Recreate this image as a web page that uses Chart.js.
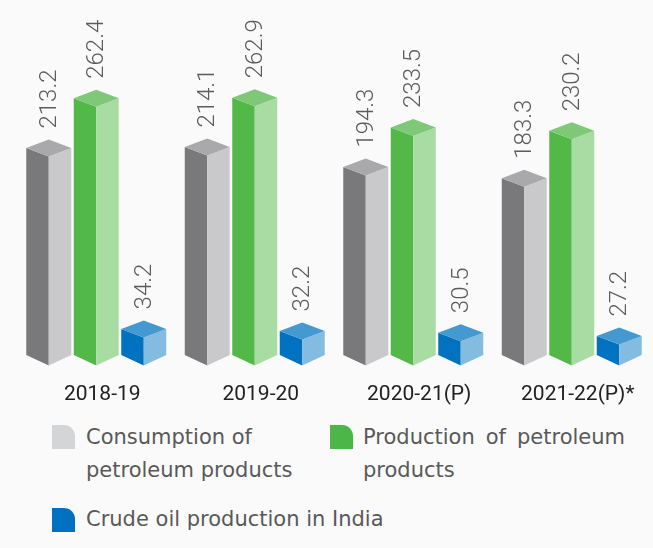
<!DOCTYPE html>
<html lang="en">
<head>
    <meta charset="UTF-8">
    <title>Petroleum products</title>
    <script src="https://cdn.jsdelivr.net/npm/chart.js"></script>
    <style>
        html, body { margin: 0; padding: 0; background: #fafafa; }
        #wrap { position: relative; width: 653px; height: 548px; overflow: hidden; }
        #chart { position: absolute; left: 0; top: 0; }
        .item { position: absolute; font-family: "DejaVu Sans", sans-serif; font-size: 21px; line-height: 33px; color: #595959; }
        .swatch { position: absolute; width: 23px; height: 24px; border-top-right-radius: 11px; }
    </style>
</head>
<body>
    <div id="wrap">
        <canvas id="chart" width="653" height="420"></canvas>

        <div class="swatch" style="left:52px; top:425px; background:#d4d5d7;"></div>
        <div class="item" id="leg0" style="left:86px; top:421px; width:215px;"></div>

        <div class="swatch" style="left:330px; top:425px; background:#4cb748;"></div>
        <div class="item" id="leg1" style="left:363px; top:421px; width:262px; text-align:justify;"></div>

        <div class="swatch" style="left:52px; top:508px; background:#0070c0;"></div>
        <div class="item" id="leg2" style="left:86px; top:503px; width:400px;"></div>
    </div>

    <script>
        const categories = ['2018-19', '2019-20', '2020-21(P)', '2021-22(P)*'];
        const consumption = [213.2, 214.1, 194.3, 183.3];
        const production = [262.4, 262.9, 233.5, 230.2];
        const crude = [34.2, 32.2, 30.5, 27.2];
        const seriesNames = ['Consumption of petroleum products', 'Production of petroleum products', 'Crude oil production in India'];

        // left / right / top face colours for each series
        const faces = [
            { left: '#79797b', right: '#c9c9cb', top: '#a9a9ac' },
            { left: '#52b848', right: '#a9dca2', top: '#7ec878' },
            { left: '#0072bf', right: '#84bbe0', top: '#4499d0' }
        ];
        const DEPTH = 8.5;

        seriesNames.forEach((n, i) => { document.getElementById('leg' + i).textContent = n; });

        function poly(ctx, pts, color) {
            ctx.beginPath();
            ctx.moveTo(pts[0][0], pts[0][1]);
            for (let k = 1; k < pts.length; k++) ctx.lineTo(pts[k][0], pts[k][1]);
            ctx.closePath();
            ctx.fillStyle = color;
            ctx.fill();
        }

        // draws each bar as a small prism, plus its rotated value label
        const prismPlugin = {
            id: 'prisms',
            afterDatasetsDraw(chart) {
                const ctx = chart.ctx;
                chart.data.datasets.forEach((ds, di) => {
                    const meta = chart.getDatasetMeta(di);
                    const f = faces[di];
                    meta.data.forEach((bar, i) => {
                        const half = bar.width / 2;
                        const xl = bar.x - half, xr = bar.x + half, xc = bar.x;
                        const back = bar.y;
                        const side = back + DEPTH;
                        const front = back + 2 * DEPTH;
                        const base = bar.base;
                        poly(ctx, [[xl, side], [xc, front], [xc, base + DEPTH + 2], [xl, base]], f.left);
                        poly(ctx, [[xc, front], [xr, side], [xr, base], [xc, base + DEPTH + 2]], f.right);
                        poly(ctx, [[xl, side], [xc, back], [xr, side], [xc, front]], f.top);

                        ctx.save();
                        ctx.translate(xc + 1, back - 11);
                        ctx.rotate(-Math.PI / 2);
                        ctx.font = '300 24px Roboto';
                        ctx.fillStyle = '#5c5c5c';
                        ctx.textAlign = 'left';
                        ctx.textBaseline = 'middle';
                        ctx.fillText(ds.data[i].toFixed(1), 0, 0);
                        ctx.restore();
                    });
                });
            }
        };

        const ctx = document.getElementById('chart').getContext('2d');
        new Chart(ctx, {
            type: 'bar',
            data: {
                labels: categories,
                datasets: [
                    { label: seriesNames[0], data: consumption },
                    { label: seriesNames[1], data: production },
                    { label: seriesNames[2], data: crude }
                ].map(d => Object.assign(d, {
                    backgroundColor: 'rgba(0,0,0,0)',
                    borderWidth: 0,
                    categoryPercentage: 0.899,
                    barPercentage: 0.947
                }))
            },
            options: {
                responsive: false,
                animation: false,
                layout: { padding: { top: 72, left: 17, right: 2, bottom: 5 } },
                plugins: {
                    legend: { display: false },
                    tooltip: { enabled: false }
                },
                scales: {
                    x: {
                        grid: { display: false, drawTicks: false },
                        border: { display: false },
                        ticks: {
                            padding: 27,
                            labelOffset: 6,
                            color: '#222222',
                            font: { family: 'Roboto', size: 21 }
                        },
                        afterFit(scale) {
                            scale.height = 60;
                            scale.paddingLeft = 0;
                            scale.paddingRight = 0;
                        }
                    },
                    y: {
                        display: false,
                        min: 0,
                        max: 280
                    }
                }
            },
            plugins: [prismPlugin]
        });
    </script>
</body>
</html>
